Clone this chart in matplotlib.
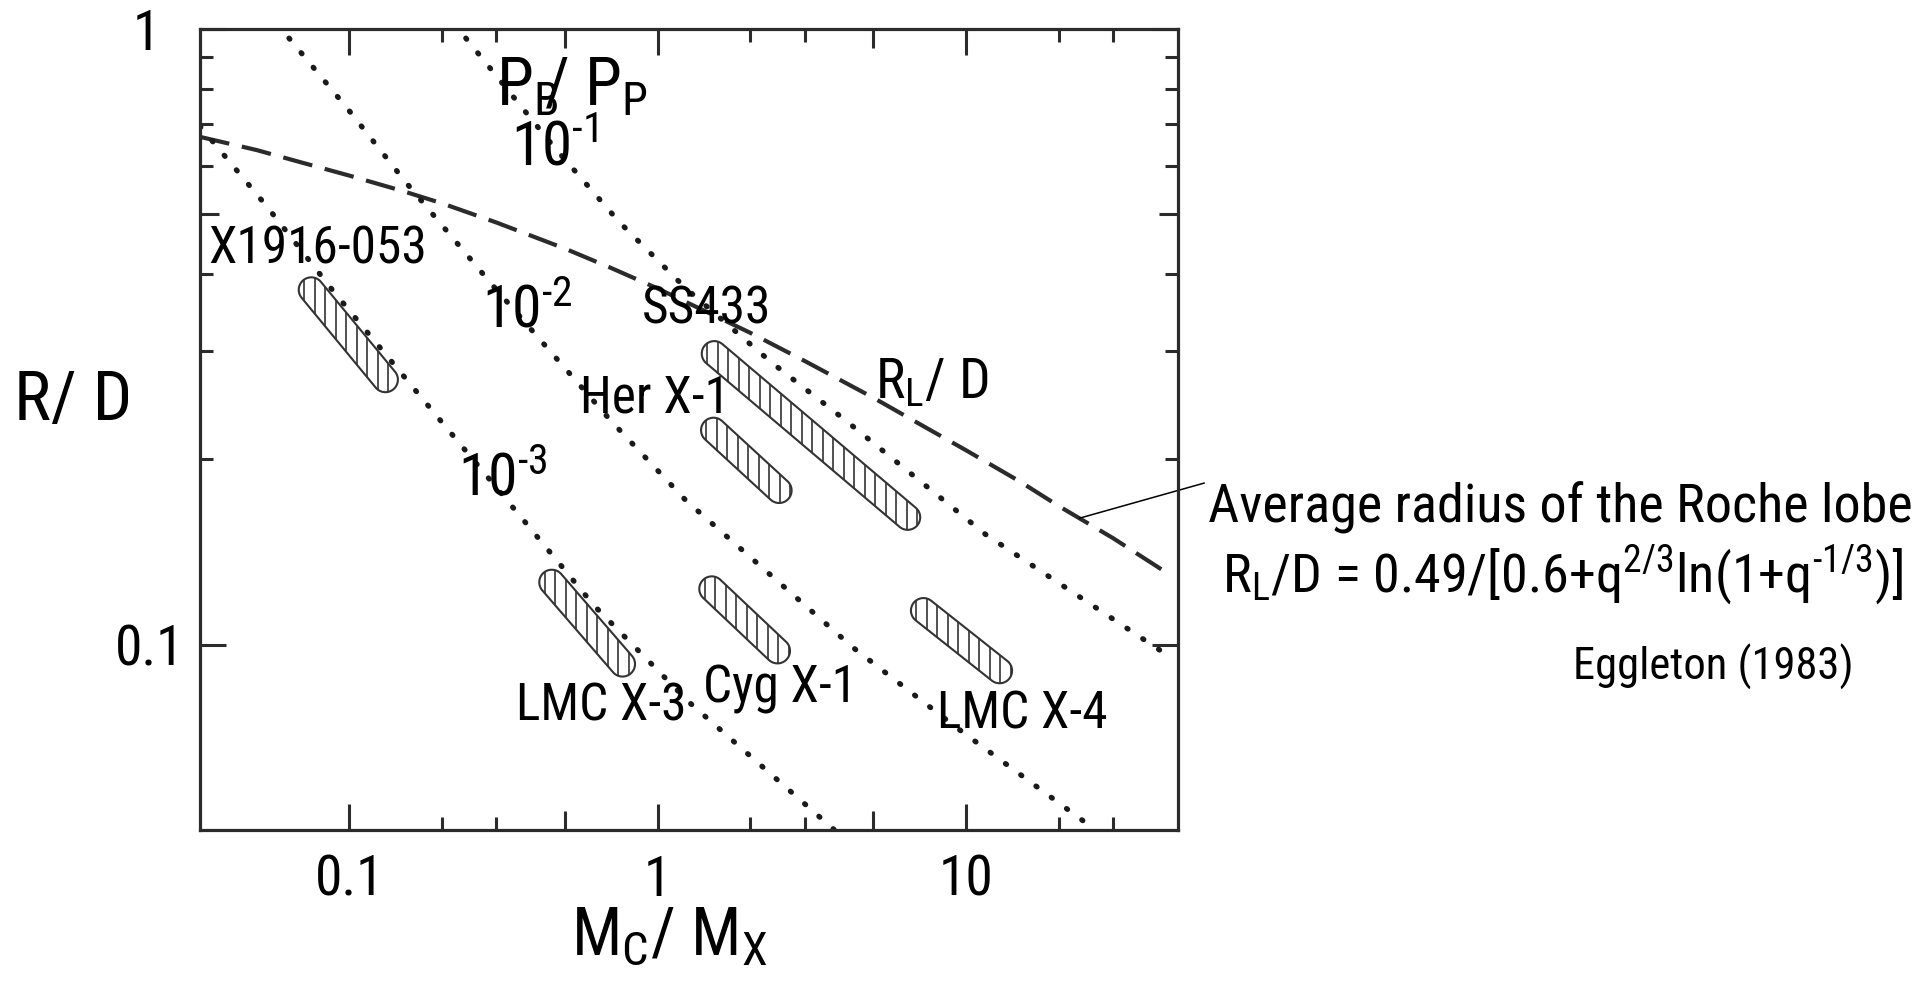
import numpy as np
import matplotlib
matplotlib.use('Agg')
import matplotlib.pyplot as plt
from matplotlib import font_manager
from matplotlib.patches import Polygon
from matplotlib.collections import LineCollection
from matplotlib.transforms import IdentityTransform, ScaledTranslation
from matplotlib.ticker import NullFormatter

# mass ratio q = M_C / M_X against R / D

# average Roche lobe radius (dashed curve)
roche_q = [0.0328, 0.05, 0.07, 0.1, 0.15, 0.2, 0.3, 0.5, 0.7, 1.0,
           1.5, 2.0, 3.0, 5.0, 7.0, 10.0, 15.0, 20.0, 30.0, 44.7]
roche_r = [0.668, 0.636, 0.607, 0.578, 0.545, 0.521, 0.485, 0.440, 0.410, 0.379,
           0.344, 0.321, 0.289, 0.252, 0.229, 0.207, 0.184, 0.168, 0.149, 0.131]

# curves of constant P_B/P_P (dotted)
pp1_q = [0.239, 0.456, 0.751, 1.236, 2.33, 4.09, 11.6, 45.3]
pp1_r = [0.966, 0.648, 0.486, 0.379, 0.288, 0.231, 0.151, 0.096]
pp2_q = [0.0638, 0.0986, 0.152, 0.291, 0.706, 1.236, 4.30, 9.31, 25.8]
pp2_r = [0.966, 0.743, 0.565, 0.384, 0.231, 0.1715, 0.099, 0.0734, 0.0504]
pp3_q = [0.0328, 0.0542, 0.0892, 0.198, 0.365, 0.623, 1.267, 3.75]
pp3_r = [0.695, 0.514, 0.374, 0.231, 0.160, 0.1157, 0.0806, 0.050]
pp_labels = ['10$^{\\text{-1}}$', '10$^{\\text{-2}}$', '10$^{\\text{-3}}$']

# X-ray binaries: allowed band runs from (q1, r1) to (q2, r2)
src_names = ['X1916-053', 'SS433', 'Her X-1', 'LMC X-3', 'Cyg X-1', 'LMC X-4']
src_q1 = [0.0753, 1.528, 1.52, 0.454, 1.50, 7.29]
src_r1 = [0.377, 0.297, 0.223, 0.1263, 0.1232, 0.1136]
src_q2 = [0.131, 6.48, 2.48, 0.770, 2.45, 12.87]
src_r2 = [0.2694, 0.161, 0.178, 0.0930, 0.0977, 0.0907]

# leader from the dashed curve to the formula
leader_q = [23.4, 59.3]
leader_r = [0.1605, 0.183]

available = {f.name for f in font_manager.fontManager.ttflist}
narrow = 'Liberation Sans'
for cand in ['Liberation Sans Narrow', 'Arial Narrow', 'Roboto Condensed',
             'Open Sans Condensed']:
    if cand in available:
        narrow = cand
        break

plt.rcParams['font.family'] = narrow
plt.rcParams['mathtext.fontset'] = 'custom'
plt.rcParams['mathtext.rm'] = narrow
plt.rcParams['mathtext.it'] = narrow
plt.rcParams['mathtext.bf'] = narrow + ':bold'

ink = '#2b2b2b'

fig = plt.figure(figsize=(19.19, 9.88), dpi=100)
ax = fig.add_axes([200 / 1919, 158 / 988, 978 / 1919, 801 / 988])
ax.set_xscale('log')
ax.set_yscale('log')
ax.set_xlim(0.0328, 48.8)
ax.set_ylim(0.05, 1.0)

for s in ax.spines.values():
    s.set_linewidth(2.3)
    s.set_color(ink)

ax.set_xticks([0.1, 1, 10])
ax.set_xticklabels(['0.1', '1', '10'])
ax.set_xticks([0.2, 0.3, 0.5, 2, 3, 5, 20, 30], minor=True)
ax.set_yticks([0.1, 1])
ax.set_yticklabels(['0.1', '1'])
ax.set_yticks([0.2, 0.3, 0.4, 0.5, 0.6, 0.7, 0.8, 0.9], minor=True)
ax.xaxis.set_minor_formatter(NullFormatter())
ax.yaxis.set_minor_formatter(NullFormatter())

ax.tick_params(which='both', direction='in', top=True, right=True,
               width=2.2, color=ink, labelsize=40)
ax.tick_params(which='major', length=19)
ax.tick_params(which='minor', length=9.5)
ax.tick_params(axis='x', which='major', pad=17)
ax.tick_params(axis='y', which='major', pad=11)

# the 0.5 and 5 ticks are a bit longer than the other minor ones
for tick, loc in zip(ax.xaxis.get_minor_ticks(), ax.xaxis.get_minorticklocs()):
    if loc in (0.5, 5):
        tick.tick1line.set_markersize(13.5)
        tick.tick2line.set_markersize(13.5)
for tick, loc in zip(ax.yaxis.get_minor_ticks(), ax.yaxis.get_minorticklocs()):
    if abs(loc - 0.5) < 1e-9:
        tick.tick1line.set_markersize(13.5)
        tick.tick2line.set_markersize(13.5)

# "1" sits further out than "0.1"
one = ax.yaxis.get_major_ticks()[1].label1
one.set_transform(one.get_transform() + ScaledTranslation(-0.25, 0, fig.dpi_scale_trans))

# Roche lobe and P_B/P_P curves
ax.plot(roche_q, roche_r, color=ink, lw=3.0, linestyle=(0, (7.2, 3.1)))
for q, r in [(pp1_q, pp1_r), (pp2_q, pp2_r), (pp3_q, pp3_r)]:
    ax.plot(q, r, color='#1a1a1a', lw=3.9, linestyle=(0, (0.2, 3.3)),
            dash_capstyle='round')


def draw_band(ax, q1, r1, q2, r2, width=25, spacing=10.5):
    # stadium shape between two points, drawn in pixels, with vertical hatching
    a = ax.transData.transform((q1, r1))
    b = ax.transData.transform((q2, r2))
    u = (b - a) / np.hypot(*(b - a))
    n = np.array([-u[1], u[0]])
    rad = width / 2
    th = np.arctan2(n[1], n[0])
    t_b = np.linspace(th, th - np.pi, 40)
    t_a = np.linspace(th - np.pi, th - 2 * np.pi, 40)
    pts = np.vstack([b + rad * np.column_stack([np.cos(t_b), np.sin(t_b)]),
                     a + rad * np.column_stack([np.cos(t_a), np.sin(t_a)])])
    band = Polygon(pts, closed=True, transform=IdentityTransform(),
                   facecolor='none', edgecolor='#333333', lw=1.5)
    ax.add_patch(band)
    xs = np.arange(pts[:, 0].min() + spacing / 2, pts[:, 0].max(), spacing)
    y0, y1 = pts[:, 1].min() - 2, pts[:, 1].max() + 2
    hatch = LineCollection([[(x, y0), (x, y1)] for x in xs],
                           transform=IdentityTransform(), colors='#333333',
                           linewidths=1.2)
    hatch.set_clip_path(band)
    ax.add_collection(hatch, autolim=False)


for i in range(len(src_names)):
    draw_band(ax, src_q1[i], src_r1[i], src_q2[i], src_r2[i])

ax.set_xlim(0.0328, 48.8)
ax.set_ylim(0.05, 1.0)

ax.plot(leader_q, leader_r, color='k', lw=1.1, clip_on=False)

# source names
src_fs = 37
ax.text(0.0787, 0.4164, src_names[0], fontsize=src_fs, ha='center', va='baseline')
ax.text(1.443, 0.3326, src_names[1], fontsize=src_fs, ha='center', va='baseline')
ax.text(0.978, 0.2383, src_names[2], fontsize=src_fs, ha='center', va='baseline')
ax.text(0.658, 0.0752, src_names[3], fontsize=src_fs, ha='center', va='baseline')
ax.text(2.49, 0.0804, src_names[4], fontsize=src_fs, ha='center', va='baseline')
ax.text(15.2, 0.0730, src_names[5], fontsize=src_fs, ha='center', va='baseline')

# curve labels
ax.text(0.526, 0.752, 'P$_\\mathrm{B}\\!\\!$/ P$_\\mathrm{P}$', fontsize=48,
        ha='center', va='baseline')
ax.text(0.463, 0.601, pp_labels[0], fontsize=44, ha='center', va='baseline')
ax.text(0.378, 0.3276, pp_labels[1], fontsize=43, ha='center', va='baseline')
ax.text(0.314, 0.1747, pp_labels[2], fontsize=43, ha='center', va='baseline')
ax.text(7.76, 0.2512, 'R$_\\mathrm{L}$/ D', fontsize=40, ha='center', va='baseline')

# axis titles
ax.text(0.4796, -0.156, 'M$_\\mathrm{C}$/ M$_\\mathrm{X}$', transform=ax.transAxes,
        fontsize=48, ha='center', va='baseline')
ax.text(-0.130, 0.512, 'R/ D', transform=ax.transAxes,
        fontsize=50, ha='center', va='baseline')

# Roche lobe note
fig.text(1208 / 1919, (988 - 522) / 988, 'Average radius of the Roche lobe',
         fontsize=39, ha='left', va='baseline')
fig.text(1222 / 1919, (988 - 593) / 988,
         'R$_\\mathrm{L}$/D = 0.49/[0.6+q$^{2/3}$ln(1+q$^{\\text{-1/3}}$)]',
         fontsize=39, ha='left', va='baseline')
fig.text(1573 / 1919, (988 - 680) / 988, 'Eggleton (1983)',
         fontsize=32, ha='left', va='baseline')

fig.savefig('out.png', dpi=100)
